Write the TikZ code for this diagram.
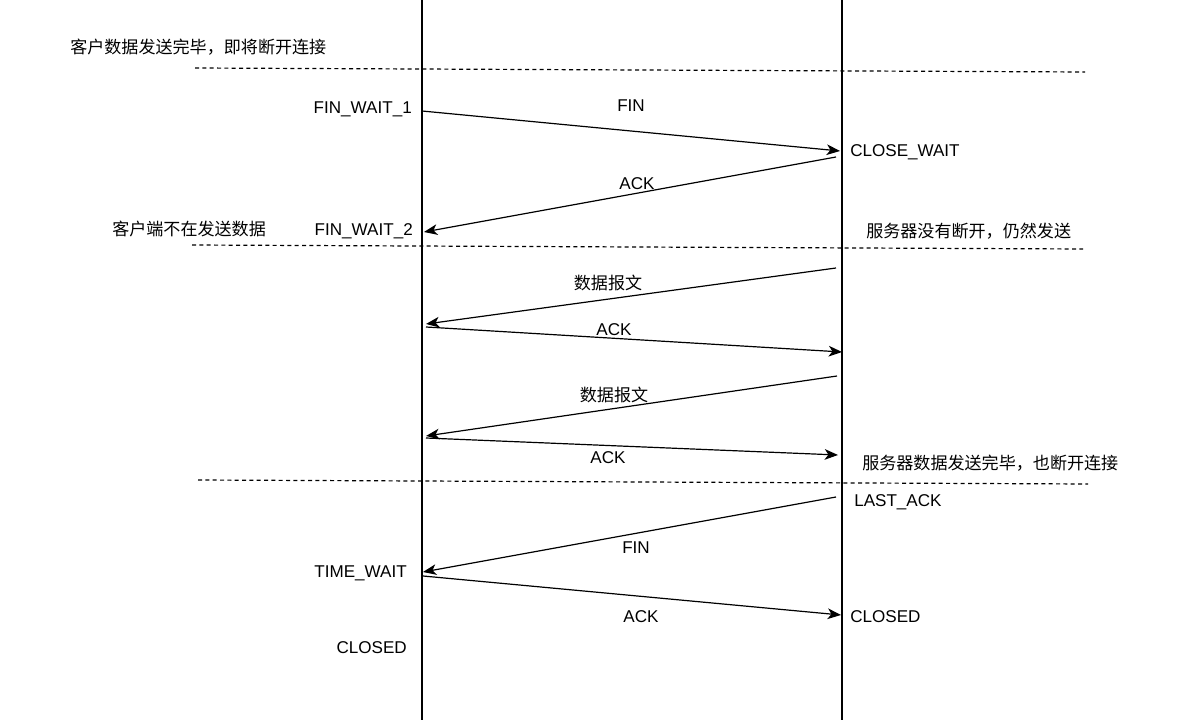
\documentclass[tikz,border=0pt]{standalone}
\usepackage{fontspec}
\setmainfont{Liberation Sans}
\newfontfamily\cjkfont{Noto Sans CJK SC}
\usetikzlibrary{arrows.meta}
\tikzset{state/.style = {font=\fontsize{12.8}{15}\selectfont, inner sep=0pt, yshift=-1.2pt}}
\tikzset{note/.style = {font=\cjkfont\fontsize{12.8}{15}\selectfont, inner sep=0pt, yshift=-1pt}}
\tikzset{msg/.style = {draw, line width=0.9pt, -{Stealth[length=10pt,width=8pt,inset=2.8pt]}}}
\tikzset{sep/.style = {draw, line width=0.9pt, dash pattern=on 3pt off 2.5pt}}
\tikzset{life/.style = {draw, line width=0.9pt}}

\begin{document}
\begin{tikzpicture}[x=0.75pt, y=-0.75pt]
\useasboundingbox (0,0) rectangle (1185,720);

% lifelines
\coordinate (ctop) at (422,0);
\coordinate (cbot) at (422,720);
\coordinate (stop) at (842,0);
\coordinate (sbot) at (842,720);
\path [life] (ctop) -- (cbot);
\path [life] (stop) -- (sbot);

% separators
\coordinate (d1a) at (195,68);
\coordinate (d1b) at (1085,72);
\coordinate (d2a) at (192,245);
\coordinate (d2b) at (1083,249);
\coordinate (d3a) at (198,480);
\coordinate (d3b) at (1088,484);
\path [sep] (d1a) -- (d1b);
\path [sep] (d2a) -- (d2b);
\path [sep] (d3a) -- (d3b);

% notes
\node[note, anchor=west] (n1) at (70,46) {客户数据发送完毕，即将断开连接};
\node[note, anchor=west] (n2) at (112,228) {客户端不在发送数据};
\node[note, anchor=west] (n3) at (866,230) {服务器没有断开，仍然发送};
\node[note, anchor=west] (n4) at (862,462) {服务器数据发送完毕，也断开连接};

% states
\node[state, anchor=east] (fw1) at (412,108) {FIN\_WAIT\_1};
\node[state, anchor=west] (cw) at (850,151) {CLOSE\_WAIT};
\node[state, anchor=east] (fw2) at (413,230) {FIN\_WAIT\_2};
\node[state, anchor=west] (la) at (854,501) {LAST\_ACK};
\node[state, anchor=east] (tw) at (407,572) {TIME\_WAIT};
\node[state, anchor=west] (scl) at (850,615) {CLOSED};
\node[state, anchor=east] (ccl) at (407,646) {CLOSED};

% message ends
\coordinate (m1a) at (422,111);
\coordinate (m1b) at (840,151);
\coordinate (m2a) at (836,157);
\coordinate (m2b) at (424,232);
\coordinate (m3a) at (836,268);
\coordinate (m3b) at (426,324);
\coordinate (m4a) at (426,327);
\coordinate (m4b) at (842,352);
\coordinate (m5a) at (837,376);
\coordinate (m5b) at (426,436);
\coordinate (m6a) at (426,438);
\coordinate (m6b) at (838,455);
\coordinate (m7a) at (836,497);
\coordinate (m7b) at (423,572);
\coordinate (m8a) at (423,576);
\coordinate (m8b) at (841,615);

\path [msg] (m1a) -- (m1b);
\path [msg] (m2a) -- (m2b);
\path [msg] (m3a) -- (m3b);
\path [msg] (m4a) -- (m4b);
\path [msg] (m5a) -- (m5b);
\path [msg] (m6a) -- (m6b);
\path [msg] (m7a) -- (m7b);
\path [msg] (m8a) -- (m8b);

% message labels
\node[state] (l1) at (631,104) {FIN};
\node[state] (l2) at (637,182) {ACK};
\node[note] (l3) at (608,282) {数据报文};
\node[state] (l4) at (614,328) {ACK};
\node[note] (l5) at (614,394) {数据报文};
\node[state] (l6) at (608,456) {ACK};
\node[state] (l7) at (636,546) {FIN};
\node[state] (l8) at (641,615) {ACK};
\end{tikzpicture}
\end{document}
